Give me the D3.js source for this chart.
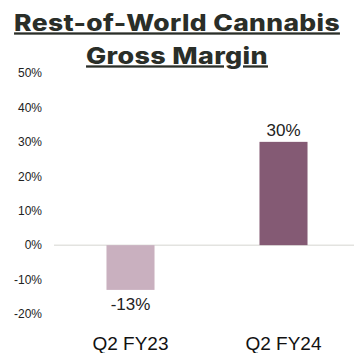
<!DOCTYPE html>
<html>
<head>
<meta charset="utf-8">
<script src="https://cdn.jsdelivr.net/npm/d3@7"></script>
<style>
  body { margin: 0; background: #fff; }
  svg { display: block; }
</style>
</head>
<body>
<div id="chart"></div>
<script>
// data
var categories = ["Q2 FY23", "Q2 FY24"];
var margins = [-13, 30];
var labels = ["-13%", "30%"];
var ticks = [-20, -10, 0, 10, 20, 30, 40, 50];
var titleLines = ["Rest-of-World Cannabis", "Gross Margin"];
var colors = ["#c9b0bf", "#845a74"];

var width = 354, height = 353;

var svg = d3.select("#chart")
    .append("svg")
    .attr("width", width)
    .attr("height", height);

var x = d3.scaleBand()
    .domain(categories)
    .range([54, 360])
    .paddingInner(0.686)
    .paddingOuter(0.343);

var y = d3.scaleLinear()
    .domain([-20, 50])
    .range([314, 73]);

// title - wide geometric look: stretch Inter horizontally to the reference width
var titleWidths = [326, 182];
svg.selectAll(".title")
    .data(titleLines)
    .enter()
    .append("text")
    .attr("class", "title")
    .attr("text-anchor", "middle")
    .style("font-family", "Inter, 'DejaVu Sans', sans-serif")
    .style("font-weight", "800")
    .style("font-size", "23px")
    .style("letter-spacing", "0.3px")
    .style("fill", "#2a2e28")
    .style("text-decoration", "underline")
    .text(function(d) { return d; })
    .attr("transform", function(d, i) {
        var w = this.getComputedTextLength();
        var s = titleWidths[i] / w;
        return "translate(177," + (30.5 + i * 33) + ") scale(" + s + ",1)";
    });

// y axis labels
var yAxis = d3.axisLeft(y)
    .tickValues(ticks)
    .tickSize(0)
    .tickPadding(0)
    .tickFormat(function(d) { return d + "%"; });

var gy = svg.append("g")
    .attr("transform", "translate(42,0)")
    .call(yAxis);
gy.select(".domain").remove();
gy.selectAll("text")
    .style("font-family", "Arial, 'Liberation Sans', sans-serif")
    .style("font-size", "12px")
    .style("fill", "#222");

// zero line
svg.append("line")
    .attr("x1", 54)
    .attr("x2", width)
    .attr("y1", y(0))
    .attr("y2", y(0))
    .style("stroke", "#e3e3e0")
    .style("stroke-width", 1.5);

// bars
svg.selectAll("rect.bar")
    .data(categories)
    .enter()
    .append("rect")
    .attr("class", "bar")
    .attr("x", function(d) { return x(d); })
    .attr("width", x.bandwidth())
    .attr("y", function(d, i) { return y(Math.max(0, margins[i])); })
    .attr("height", function(d, i) { return Math.abs(y(margins[i]) - y(0)); })
    .style("fill", function(d, i) { return colors[i]; });

// value labels
svg.selectAll("text.val")
    .data(categories)
    .enter()
    .append("text")
    .attr("class", "val")
    .attr("x", function(d) { return x(d) + x.bandwidth() / 2; })
    .attr("y", function(d, i) {
        return margins[i] >= 0 ? y(margins[i]) - 5.5 : y(margins[i]) + 20.5;
    })
    .attr("text-anchor", "middle")
    .style("font-family", "Arial, 'Liberation Sans', sans-serif")
    .style("font-size", "17px")
    .style("fill", "#222")
    .text(function(d, i) { return labels[i]; });

// category labels
svg.selectAll("text.cat")
    .data(categories)
    .enter()
    .append("text")
    .attr("class", "cat")
    .attr("x", function(d) { return x(d) + x.bandwidth() / 2; })
    .attr("y", 350)
    .attr("text-anchor", "middle")
    .style("font-family", "Arial, 'Liberation Sans', sans-serif")
    .style("font-size", "19px")
    .style("fill", "#111")
    .text(function(d) { return d; });
</script>
</body>
</html>
